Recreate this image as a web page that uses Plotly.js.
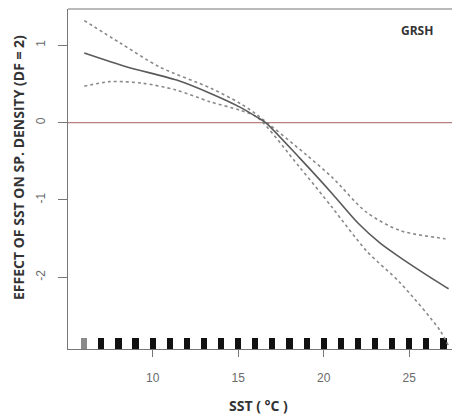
<!DOCTYPE html>
<html>
<head>
<meta charset="utf-8">
<script src="https://cdn.plot.ly/plotly-3.0.1.min.js"></script>
<style>html,body{margin:0;padding:0;background:#fff;}#chart{width:452px;height:417px;}</style>
</head>
<body>
<div id="chart"></div>
<script>
// SST values (°C) and smooth effect with confidence bounds
const sstFit   = [6.0, 8.5, 11.4, 13.35, 15.1, 16.1, 16.6, 18.6, 20.5, 22.0, 23.3, 24.5, 27.0, 27.3];
const effFit   = [0.90, 0.72, 0.55, 0.38, 0.20, 0.07, 0.00, -0.46, -0.92, -1.30, -1.56, -1.75, -2.11, -2.15];
const sstUpper = [6.0, 8.1, 10.4, 13.35, 15.1, 16.1, 19.0, 20.5, 22.5, 24.5, 27.0, 27.3];
const effUpper = [1.32, 1.03, 0.72, 0.45, 0.25, 0.10, -0.42, -0.71, -1.16, -1.40, -1.50, -1.51];
const sstLower = [6.0, 7.5, 9.4, 11.4, 13.35, 15.1, 16.1, 18.6, 20.5, 22.5, 24.5, 26.8, 27.3];
const effLower = [0.47, 0.53, 0.51, 0.42, 0.27, 0.16, 0.07, -0.58, -1.10, -1.66, -2.08, -2.69, -2.89];
// rug (observed SST values)
const rugX = [6,7,8,9,10,11,12,13,14,15,16,17,18,19,20,21,22,23,24,25,26,27];
const rugColors = rugX.map((v,i) => i === 0 ? '#8a8a8a' : '#111');
const xTicks = [10, 15, 20, 25];
const yTicks = [-2, -1, 0, 1];
const yMin = -2.93, yMax = 1.47;
const rugHeight = 0.145;

const dashStyle = {color: '#8a8a8a', width: 1.6, dash: '3px,3px', shape: 'spline', smoothing: 0.8};
const traces = [
  {x: rugX, y: rugX.map(() => rugHeight), base: rugX.map(() => yMin), type: 'bar', width: 0.36,
   marker: {color: rugColors, line: {width: 0}}, hoverinfo: 'skip', showlegend: false},
  {x: [5, 28], y: [0, 0], mode: 'lines', line: {color: '#b98080', width: 1.2}, showlegend: false},
  {x: sstUpper, y: effUpper, mode: 'lines', line: dashStyle, showlegend: false},
  {x: sstLower, y: effLower, mode: 'lines', line: dashStyle, showlegend: false},
  {x: sstFit, y: effFit, mode: 'lines', line: {color: '#5a5a5a', width: 1.6, shape: 'spline', smoothing: 0.8}, showlegend: false}
];

const tickFont = {family: 'Liberation Sans, Arial, sans-serif', size: 12, color: '#6a6a6a'};
const titleFont = {family: 'Open Sans, sans-serif', size: 14, color: '#333', weight: 'bold'};
const layout = {
  width: 452, height: 417,
  margin: {l: 68, r: 0, t: 9, b: 68},
  paper_bgcolor: '#fff', plot_bgcolor: '#fff',
  bargap: 0,
  xaxis: {range: [5.05, 27.5], tickvals: xTicks, ticks: 'outside', ticklen: 7, tickcolor: '#777',
          showline: true, linecolor: '#777', linewidth: 1.2, mirror: false, showgrid: false, zeroline: false,
          tickfont: tickFont, ticklabelstandoff: 10},
  yaxis: {range: [yMin, yMax], tickvals: yTicks, ticktext: ['-2','-1','0','1'], ticks: 'outside', ticklen: 9, tickcolor: '#777',
          showline: true, linecolor: '#777', linewidth: 1.2, showgrid: false, zeroline: false,
          tickfont: tickFont, tickangle: -90, ticklabelstandoff: 8},
  shapes: [
    {type: 'line', xref: 'paper', yref: 'paper', x0: 0, x1: 1, y0: 1, y1: 1, line: {color: '#777', width: 1.2}}
  ],
  annotations: [
    {text: 'GRSH', xref: 'paper', yref: 'paper', x: (417-68)/384, y: (349-30)/340, xanchor: 'center', yanchor: 'middle',
     showarrow: false, font: {family: 'Open Sans, sans-serif', size: 12, color: '#333', weight: 'bold'}},
    {text: 'EFFECT OF SST ON SP. DENSITY (DF = 2)', xref: 'paper', yref: 'paper', x: (18-68)/384, y: (349-168)/340,
     xanchor: 'center', yanchor: 'middle', textangle: -90, showarrow: false, font: titleFont},
    {text: 'SST ( °C )', xref: 'paper', yref: 'paper', x: (258-68)/384, y: (349-405)/340,
     xanchor: 'center', yanchor: 'middle', showarrow: false, font: titleFont}
  ]
};
Plotly.newPlot('chart', traces, layout, {displayModeBar: false, staticPlot: true});
</script>
</body>
</html>
